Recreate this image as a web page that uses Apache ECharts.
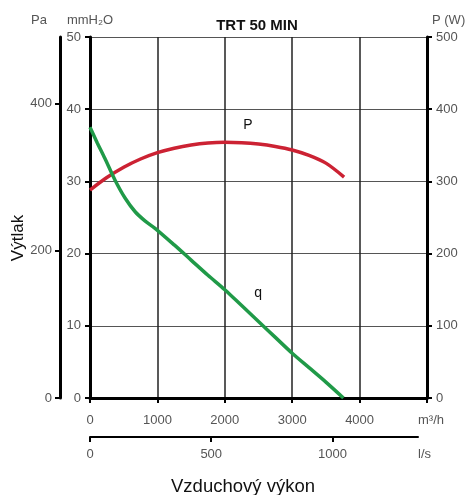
<!DOCTYPE html>
<html>
<head>
<meta charset="utf-8">
<script src="https://cdn.jsdelivr.net/npm/echarts@6/dist/echarts.min.js"></script>
<style>html,body{margin:0;padding:0;background:#fff;}#c{width:470px;height:495px;}</style>
</head>
<body>
<div id="c"></div>
<script>
// ---- data ----
var titleText = 'TRT 50 MIN';
var pFlow = [0, 250, 500, 750, 1000, 1250, 1500, 1750, 2000, 2250, 2500, 2750, 3000, 3250, 3500, 3770]; // m3/h
var pPower = [288, 305.3, 319.6, 331, 339.8, 346, 350.5, 353.3, 354.3, 353.7, 351.8, 348.4, 343.5, 336, 325.3, 306]; // W
var qFlow = [0, 110, 220, 370, 520, 670, 820, 965, 1250, 1500, 1750, 2000, 2250, 2500, 2750, 3000, 3250, 3500, 3760]; // m3/h
var qPressure = [37.5, 35.3, 33.2, 30.2, 27.7, 25.8, 24.5, 23.5, 21.2, 19.1, 17.0, 15.0, 12.8, 10.6, 8.4, 6.2, 4.2, 2.2, 0]; // mmH2O
var flowTicksM3h = [0, 1000, 2000, 3000, 4000];
var flowTicksLs = [0, 500, 1000];
var paTicks = [0, 200, 400];
var mmTicks = [0, 10, 20, 30, 40, 50];
var powerTicks = [0, 100, 200, 300, 400, 500];
var pLabelAt = [2344, 378];
var qLabelAt = [2493, 14.5];

function zip(a, b) { return a.map(function (v, i) { return [v, b[i]]; }); }
function plain(v) { return String(v); }

var F = 'Liberation Sans, Arial, sans-serif';
function lab(extra) {
  return Object.assign({ color: '#555', fontSize: 13, fontFamily: F, formatter: plain }, extra);
}
var chart = echarts.init(document.getElementById('c'));
chart.setOption({
  animation: false,
  title: [{
    text: titleText, left: 252, top: 13, textAlign: 'center',
    textStyle: { fontFamily: F, fontSize: 15, fontWeight: 'bold', color: '#111' }
  }],
  graphic: [
    { type: 'text', x: 18, y: 238, rotation: Math.PI / 2,
      style: { text: 'Výtlak', fill: '#111', fontSize: 17, fontFamily: F, align: 'center', verticalAlign: 'middle' } },
    { type: 'text', x: 243, y: 487,
      style: { text: 'Vzduchový výkon', fill: '#111', fontSize: 18.5, fontFamily: F, align: 'center', verticalAlign: 'middle' } }
  ],
  grid: [
    { left: 90, right: 43, top: 37, bottom: 97 },
    { left: 90, right: 52, top: 436, height: 1 }
  ],
  xAxis: [{
    type: 'value', gridIndex: 0, min: 0, max: 5000, interval: 1000,
    name: 'm³/h', nameLocation: 'end', nameGap: -9,
    nameTextStyle: { color: '#555', fontSize: 13, fontFamily: F, verticalAlign: 'top', padding: [16, 0, 0, 0] },
    axisLine: { show: true, lineStyle: { color: '#000', width: 3 } },
    axisTick: { show: true, length: 5, lineStyle: { color: '#000', width: 2 } },
    axisLabel: lab({ margin: 16, customValues: flowTicksM3h }),
    splitLine: { show: true, lineStyle: { color: '#222', width: 1.5 } }
  }, {
    type: 'value', gridIndex: 1, min: 0, max: 1352.8,
    name: 'l/s', nameLocation: 'end', nameGap: 0,
    nameTextStyle: { color: '#555', fontSize: 13, fontFamily: F, verticalAlign: 'top', padding: [11, 0, 0, 0] },
    axisLine: { show: true, lineStyle: { color: '#000', width: 2 } },
    axisTick: { show: true, length: 5, customValues: flowTicksLs, lineStyle: { color: '#000', width: 2 } },
    axisLabel: lab({ margin: 11, customValues: flowTicksLs }),
    splitLine: { show: false }
  }],
  yAxis: [{
    type: 'value', gridIndex: 0, min: 0, max: 50, interval: 10, position: 'left',
    name: 'mmH₂O', nameLocation: 'end', nameGap: 10,
    nameTextStyle: { color: '#555', fontSize: 13, fontFamily: F, align: 'center' },
    axisLine: { show: true, lineStyle: { color: '#000', width: 3 } },
    axisTick: { show: true, length: 5, lineStyle: { color: '#000', width: 2 } },
    axisLabel: lab({ margin: 9, customValues: mmTicks }),
    splitLine: { show: true, lineStyle: { color: '#555', width: 1 } }
  }, {
    type: 'value', gridIndex: 0, min: 0, max: 490.5, position: 'left', offset: 30,
    name: 'Pa', nameLocation: 'end', nameGap: 10,
    nameTextStyle: { color: '#555', fontSize: 13, fontFamily: F, align: 'right', padding: [0, 13, 0, 0] },
    axisLine: { show: true, lineStyle: { color: '#000', width: 3 } },
    axisTick: { show: true, length: 5, customValues: paTicks, lineStyle: { color: '#000', width: 2 } },
    axisLabel: lab({ margin: 8, customValues: paTicks }),
    splitLine: { show: false }
  }, {
    type: 'value', gridIndex: 0, min: 0, max: 500, interval: 100, position: 'right',
    name: 'P (W)', nameLocation: 'end', nameGap: 10,
    nameTextStyle: { color: '#555', fontSize: 13, fontFamily: F, align: 'left', padding: [0, 0, 0, 5] },
    axisLine: { show: true, lineStyle: { color: '#000', width: 3 } },
    axisTick: { show: true, length: 5, lineStyle: { color: '#000', width: 2 } },
    axisLabel: lab({ margin: 9, customValues: powerTicks }),
    splitLine: { show: false }
  }, {
    type: 'value', gridIndex: 1, min: 0, max: 1, show: false
  }],
  series: [{
    type: 'line', name: 'P', xAxisIndex: 0, yAxisIndex: 2, data: zip(pFlow, pPower),
    smooth: 0.3, showSymbol: false, lineStyle: { color: '#cc2233', width: 3.5 },
    markPoint: { symbol: 'circle', symbolSize: 0, silent: true,
      label: { show: true, position: 'inside', formatter: 'P', color: '#111', fontSize: 14, fontFamily: F },
      data: [{ coord: pLabelAt }] }
  }, {
    type: 'line', name: 'q', xAxisIndex: 0, yAxisIndex: 0, data: zip(qFlow, qPressure),
    smooth: 0.3, showSymbol: false, lineStyle: { color: '#209a48', width: 3.5 },
    markPoint: { symbol: 'circle', symbolSize: 0, silent: true,
      label: { show: true, position: 'inside', formatter: 'q', color: '#111', fontSize: 14, fontFamily: F },
      data: [{ coord: qLabelAt }] }
  }]
});
</script>
</body>
</html>
